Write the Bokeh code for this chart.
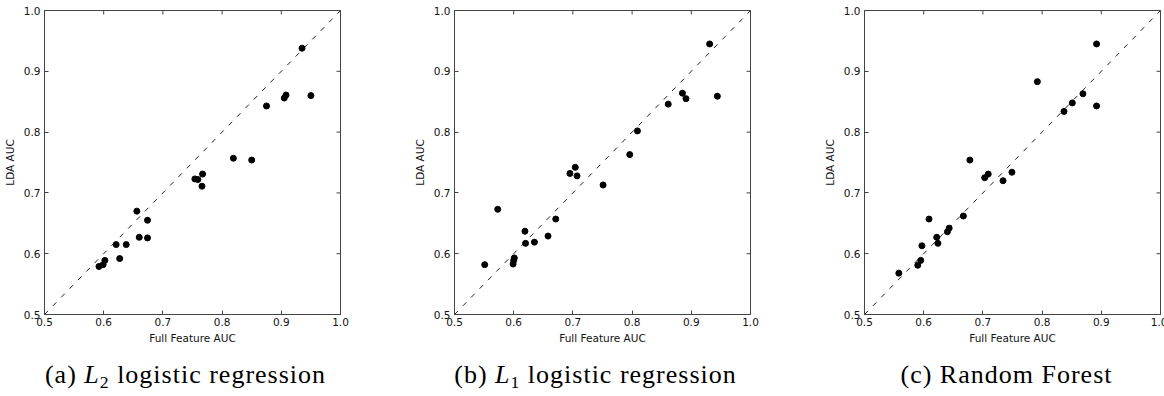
from bokeh.plotting import figure
from bokeh.models import Range1d, FixedTicker, Div, PrintfTickFormatter
from bokeh.layouts import row, column
from bokeh.embed import file_html
from bokeh.resources import INLINE

# ---- data ----
ticks = [0.5, 0.6, 0.7, 0.8, 0.9, 1.0]
diag = [0.5, 1.0]

l2_full = [0.592, 0.599, 0.602, 0.621, 0.627, 0.638, 0.656, 0.660, 0.674, 0.674,
           0.754, 0.759, 0.767, 0.766, 0.819, 0.850, 0.875, 0.905, 0.908, 0.935, 0.950]
l2_lda = [0.579, 0.582, 0.589, 0.615, 0.592, 0.615, 0.670, 0.627, 0.655, 0.626,
          0.723, 0.722, 0.731, 0.711, 0.757, 0.754, 0.843, 0.856, 0.861, 0.938, 0.860]

l1_full = [0.551, 0.573, 0.599, 0.600, 0.601, 0.619, 0.620, 0.635, 0.658, 0.671,
           0.695, 0.704, 0.707, 0.751, 0.796, 0.809, 0.861, 0.885, 0.891, 0.931, 0.944]
l1_lda = [0.582, 0.673, 0.583, 0.589, 0.593, 0.637, 0.617, 0.619, 0.629, 0.657,
          0.732, 0.742, 0.728, 0.713, 0.763, 0.802, 0.846, 0.864, 0.855, 0.945, 0.859]

rf_full = [0.558, 0.590, 0.595, 0.597, 0.609, 0.622, 0.624, 0.640, 0.643, 0.667,
           0.678, 0.703, 0.709, 0.734, 0.749, 0.792, 0.837, 0.851, 0.869, 0.892, 0.892]
rf_lda = [0.568, 0.581, 0.589, 0.613, 0.657, 0.627, 0.617, 0.636, 0.642, 0.662,
          0.754, 0.725, 0.731, 0.720, 0.734, 0.883, 0.834, 0.848, 0.863, 0.945, 0.843]

captions = [
    '(a) <i>L</i><sub style="font-size:68%;line-height:0;vertical-align:-0.3em">2</sub> logistic regression',
    '(b) <i>L</i><sub style="font-size:68%;line-height:0;vertical-align:-0.3em">1</sub> logistic regression',
    '(c) Random Forest',
]
x_label = "Full Feature AUC"
y_label = "LDA AUC"

TICK_FONT = "DejaVu Sans"
FRAME = "#444444"
TEXT = "#111111"
FW, FH = 296, 304
TICK_PX = 4


def style_axis(ax):
    ax.ticker = FixedTicker(ticks=ticks)
    ax.minor_tick_line_color = None
    ax.major_tick_in = TICK_PX
    ax.major_tick_out = 0
    ax.major_tick_line_color = FRAME
    ax.axis_line_color = FRAME
    ax.axis_line_width = 1
    ax.formatter = PrintfTickFormatter(format="%.1f")
    ax.major_label_text_font = TICK_FONT
    ax.major_label_text_font_size = "10.5px"
    ax.major_label_text_color = TEXT
    ax.axis_label_text_font = TICK_FONT
    ax.axis_label_text_font_size = "10.5px"
    ax.axis_label_text_font_style = "normal"
    ax.axis_label_text_color = TEXT


def make_panel(xs, ys, right_border):
    p = figure(frame_width=FW, frame_height=FH, height=361,
               min_border_left=43, min_border_right=right_border,
               min_border_top=10, min_border_bottom=47,
               x_range=Range1d(0.5, 1.0), y_range=Range1d(0.5, 1.0),
               output_backend="svg", toolbar_location=None, tools="")
    p.grid.visible = False
    p.outline_line_color = FRAME
    p.outline_line_width = 1
    p.background_fill_color = "white"
    p.border_fill_color = "white"

    style_axis(p.xaxis[0])
    style_axis(p.yaxis[0])
    p.xaxis[0].axis_label = x_label
    p.yaxis[0].axis_label = y_label
    p.xaxis[0].major_label_standoff = 3
    p.yaxis[0].major_label_standoff = 4
    p.xaxis[0].axis_label_standoff = 3
    p.yaxis[0].axis_label_standoff = 5

    # mirrored inward ticks on the top and right edges of the frame
    tx = TICK_PX * 0.5 / FH
    ty = TICK_PX * 0.5 / FW
    n = len(ticks)
    p.segment(x0=ticks, y0=[1.0] * n, x1=ticks, y1=[1.0 - tx] * n,
              line_color=FRAME, line_width=1)
    p.segment(x0=[1.0] * n, y0=ticks, x1=[1.0 - ty] * n, y1=ticks,
              line_color=FRAME, line_width=1)

    p.line(diag, diag, line_color="#222222", line_width=1, line_dash="5 7")
    p.scatter(xs, ys, size=6, fill_color="black", line_color="black")
    return p


def make_caption(html, width, box_w, pad_left):
    style = (f"font-family:'Liberation Serif',serif;font-size:26px;letter-spacing:1px;"
             f"line-height:28px;color:#000;text-align:center;white-space:nowrap;"
             f"display:block;box-sizing:content-box;width:{box_w}px;"
             f"padding-left:{pad_left}px;margin:0;")
    return Div(text=f'<div style="{style}">{html}</div>', width=width, height=35,
               margin=(0, 0, 0, 0))


p1 = make_panel(l2_full, l2_lda, 70)
p2 = make_panel(l1_full, l1_lda, 70)
p3 = make_panel(rf_full, rf_lda, 7)

c1 = make_caption(captions[0], 409, 371, 0)
c2 = make_caption(captions[1], 409, 371, 0)
c3 = make_caption(captions[2], 346, 319, 27)

layout = row(column(p1, c1, spacing=0), column(p2, c2, spacing=0),
             column(p3, c3, spacing=0), spacing=0)

open("out.html", "w").write(file_html(layout, INLINE))
